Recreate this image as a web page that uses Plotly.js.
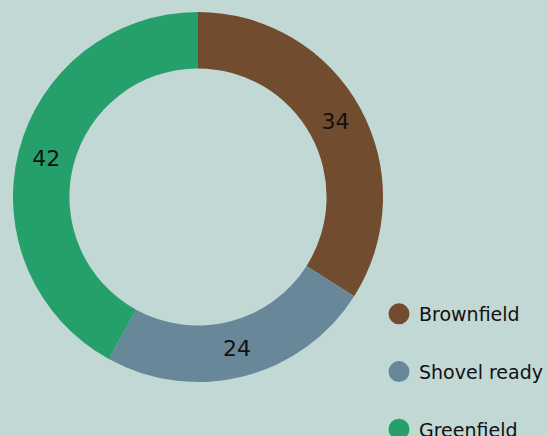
<!DOCTYPE html>
<html>
<head>
<meta charset="utf-8">
<script src="https://cdn.plot.ly/plotly-3.0.1.min.js"></script>
<style>html,body{margin:0;padding:0;background:#c2d8d5;}#chart{width:547px;height:436px;}</style>
</head>
<body>
<div id="chart"></div>
<script>
const categories = ["Brownfield", "Shovel ready", "Greenfield"];
const values = [34, 24, 42];
const colors = ["#714c2f", "#688799", "#26a06b"];

const traces = [{
  type: "pie",
  labels: categories,
  values: values,
  sort: false,
  direction: "clockwise",
  rotation: 0,
  hole: 0.695,
  marker: {colors: colors, line: {width: 0}},
  textinfo: "value",
  textposition: "inside",
  insidetextorientation: "horizontal",
  textfont: {family: "DejaVu Sans, sans-serif", size: 22, color: "#111111"},
  showlegend: false,
  domain: {x: [13/547, 383/547], y: [54/436, 424/436]}
}];
categories.forEach((c, i) => {
  traces.push({
    type: "scatter", mode: "markers", x: [null], y: [null], name: c,
    legendgroup: "g" + i,
    marker: {symbol: "circle", size: 16, color: colors[i], line: {width: 5, color: colors[i]}}
  });
});

const layout = {
  width: 547, height: 436,
  margin: {l: 0, r: 0, t: 0, b: 0, autoexpand: false},
  paper_bgcolor: "#c2d8d5",
  plot_bgcolor: "#c2d8d5",
  xaxis: {visible: false}, yaxis: {visible: false},
  showlegend: true,
  legend: {
    x: 379/547, xanchor: "left", y: 1 - 295/436, yanchor: "top",
    bgcolor: "rgba(0,0,0,0)",
    font: {family: "DejaVu Sans, sans-serif", size: 19, color: "#111111"},
    tracegroupgap: 30,
    itemclick: false
  },
  font: {family: "DejaVu Sans, sans-serif"}
};
Plotly.newPlot("chart", traces, layout, {displayModeBar: false, staticPlot: true});
</script>
</body>
</html>
